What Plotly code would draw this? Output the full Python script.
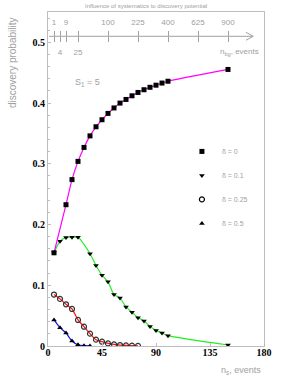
import numpy as np
import plotly.graph_objects as go

# ---- data ----
ns_d0 = [5, 15, 20, 25, 30, 35, 40, 45, 50, 55, 60, 65, 70, 75, 80, 85, 90, 95, 100, 150]
p_d0 = [0.1535, 0.2327, 0.274, 0.304, 0.327, 0.346, 0.361, 0.3726, 0.383, 0.392,
        0.400, 0.406, 0.412, 0.4175, 0.422, 0.426, 0.4295, 0.433, 0.436, 0.4554]

ns_d01 = [5, 10, 15, 20, 25, 35, 40, 45, 50, 55, 60, 65, 70, 75, 80, 85, 90, 95, 100, 150]
p_d01 = [0.1535, 0.1726, 0.1787, 0.179, 0.179, 0.152, 0.1325, 0.1165, 0.1056, 0.0847,
         0.0792, 0.0644, 0.0555, 0.0467, 0.0413, 0.0323, 0.0257, 0.0215, 0.017, 0.0016]

ns_d025 = [5, 10, 15, 20, 25, 30, 35, 40, 45, 50, 55, 60, 65, 70, 75]
p_d025 = [0.0847, 0.0776, 0.0687, 0.061, 0.0429, 0.0318, 0.0203, 0.0104, 0.0071,
          0.0043, 0.0026, 0.0016, 0.001, 0.0005, 0.0003]

ns_d05 = [5, 10, 15, 20, 25, 30, 35]
p_d05 = [0.0429, 0.0302, 0.0215, 0.0083, 0.002, 0.0005, 0.0001]

# secondary (background) scale: n_bg, placed at n_s = S1*sqrt(n_bg)
S1 = 5
nbg_upper = [1, 9, 100, 225, 400, 625, 900]   # labels above the arrow
nbg_lower = [4, 25]                           # labels below the arrow
x_ticks = [0, 45, 90, 135, 180]

GRAY = "#a0a0a0"
AX = "#bdbdbd"
SANS = "Liberation Sans, Arial, sans-serif"
SERIF = "Liberation Serif, Times New Roman, serif"

fig = go.Figure()

series = [
    (ns_d01, p_d01, "#22ee22", "triangle-down", "black", "δ = 0.1"),
    (ns_d025, p_d025, "#ff1010", "circle-open", "#333333", "δ = 0.25"),
    (ns_d05, p_d05, "#1010ff", "triangle-up", "black", "δ = 0.5"),
    (ns_d0, p_d0, "#ff00ff", "square", "black", "δ = 0"),
]
for xs, ys, lc, sym, mc, name in series:
    fig.add_trace(go.Scatter(
        x=xs, y=ys, mode="lines+markers", showlegend=False,
        line=dict(color=lc, width=1.2, shape="spline", smoothing=0.6),
        marker=dict(symbol=sym, color=mc, size=5,
                    line=dict(color=mc, width=1.2 if sym == "circle-open" else 0)),
        name=name))

# legend entries (marker only)
legend_items = [("square", "δ = 0"), ("triangle-down", "δ = 0.1"),
                ("circle-open", "δ = 0.25"), ("triangle-up", "δ = 0.5")]
for i, (sym, name) in enumerate(legend_items):
    fig.add_trace(go.Scatter(
        x=[None], y=[None], mode="markers", name=name, legendgroup=f"g{i}",
        marker=dict(symbol=sym, color="black", size=5,
                    line=dict(color="#333333", width=1.2 if sym == "circle-open" else 0))))

# top n_bg axis line with arrow
fig.add_shape(type="path", xref="x", yref="y",
              path="M 1,0.51 L 171,0.51 M 165,0.5165 L 171,0.51 L 165,0.5035",
              line=dict(color=GRAY, width=1))

ypos = 0.51 / 0.55
up_pos = [S1 * np.sqrt(v) for v in nbg_upper]
lo_pos = [S1 * np.sqrt(v) for v in nbg_lower]

fig.update_layout(
    width=300, height=388,
    margin=dict(l=48, r=36, t=12, b=42),
    paper_bgcolor="white", plot_bgcolor="white",
    showlegend=True,
    legend=dict(x=0.62, y=0.626, xanchor="left", yanchor="top",
                font=dict(family=SANS, size=7, color=GRAY),
                tracegroupgap=5, bgcolor="rgba(0,0,0,0)", itemwidth=30),
    xaxis=dict(range=[0, 180], tickvals=x_ticks, showgrid=False, zeroline=False,
               showline=True, linecolor=AX, linewidth=1, mirror=True,
               ticks="inside", ticklen=3, tickcolor=AX, ticklabelstandoff=-3,
               tickfont=dict(family=SERIF, size=10, color="black", weight="bold")),
    yaxis=dict(range=[0, 0.55], tick0=0, dtick=0.1, showgrid=False, zeroline=False,
               showline=True, linecolor=AX, linewidth=1, mirror=True,
               ticks="inside", ticklen=3, tickcolor=AX,
               minor=dict(dtick=0.02, ticks="inside", ticklen=2, tickcolor=AX),
               tickfont=dict(family=SERIF, size=10, color="black", weight="bold")),
    xaxis2=dict(overlaying="x", anchor="free", position=ypos, side="top",
                range=[0, 180], tickvals=up_pos, ticktext=[str(v) for v in nbg_upper],
                showgrid=False, zeroline=False, showline=False,
                ticks="outside", ticklen=5, tickcolor=GRAY, ticklabelstandoff=3,
                minor=dict(tickvals=lo_pos, ticks="outside", ticklen=5, tickcolor=GRAY),
                tickfont=dict(family=SANS, size=8, color=GRAY)),
    xaxis3=dict(overlaying="x", anchor="free", position=ypos, side="bottom",
                range=[0, 180], tickvals=lo_pos, ticktext=[str(v) for v in nbg_lower],
                showgrid=False, zeroline=False, showline=False,
                ticks="outside", ticklen=5, tickcolor=GRAY, ticklabelstandoff=3,
                minor=dict(tickvals=up_pos, ticks="outside", ticklen=5, tickcolor=GRAY),
                tickfont=dict(family=SANS, size=8, color=GRAY)),
)

# invisible traces to keep the overlay axes alive
fig.add_trace(go.Scatter(x=[None], y=[None], xaxis="x2", showlegend=False, hoverinfo="skip"))
fig.add_trace(go.Scatter(x=[None], y=[None], xaxis="x3", showlegend=False, hoverinfo="skip"))

def note(text, x, y, size, xanchor="left", yanchor="middle", **kw):
    fig.add_annotation(text=text, xref="paper", yref="paper", x=x, y=y,
                       xanchor=xanchor, yanchor=yanchor, showarrow=False,
                       font=dict(family=SANS, color=GRAY, size=size), **kw)

note("Influence of systematics to discovery potential", 0.454, 1.0, 6,
     xanchor="center", yanchor="bottom", yshift=1)
note("discovery probability", -0.167, 0.992, 10, xanchor="center", yanchor="top",
     textangle=-90)
note("n<sub>s</sub>, events", 0.995, -0.072, 9, xanchor="right")
note("n<sub>bg</sub>, events", 0.985, 0.880, 8, xanchor="right")
note("S<sub>1</sub> = 5", 0.116, 0.788, 9)

# remove the browser's default 8px body margin so the figure fills the window
fig.write_html("out.html", config={"displayModeBar": False},
               post_script="document.body.style.margin='0';")
